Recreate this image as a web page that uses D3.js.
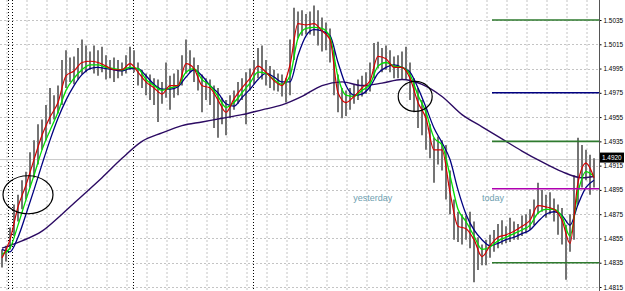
<!DOCTYPE html>
<html>
<head>
<meta charset="utf-8">
<script src="https://d3js.org/d3.v7.min.js"></script>
<style>
  body { margin: 0; background: #fff; }
  svg { display: block; font-family: "Liberation Sans", Arial, sans-serif; }
</style>
</head>
<body>
<svg id="chart" width="625" height="291"></svg>
<script>
// price bars (high / low), one bar every 4px
const barHigh = [1.4846,1.4849,1.4864,1.4883,1.4891,1.4903,1.4910,1.4926,1.4936,1.4949,
  1.4953,1.4965,1.4979,1.4973,1.4981,1.5002,1.5010,1.5004,1.5005,1.5012,
  1.5019,1.5014,1.5009,1.5014,1.5010,1.5013,1.5006,1.5002,1.5004,1.5002,
  1.5000,1.5006,1.5013,1.5010,1.5000,1.4994,1.4991,1.4990,1.4987,1.4986,
  1.4984,1.5000,1.4989,1.4991,1.4994,1.5006,1.5019,1.5010,1.5004,1.4998,
  1.4990,1.4987,1.4986,1.4981,1.4979,1.4971,1.4969,1.4973,1.4977,1.4984,
  1.4987,1.4992,1.4995,1.5002,1.5012,1.5014,1.5002,1.4997,1.4994,1.4991,
  1.4990,1.4987,1.5019,1.5045,1.5042,1.5043,1.5040,1.5042,1.5047,1.5043,
  1.5037,1.5033,1.5028,1.5010,1.4990,1.4979,1.4977,1.4979,1.4982,1.4986,
  1.4989,1.4992,1.5000,1.5016,1.5017,1.5012,1.5014,1.5010,1.5005,1.5006,
  1.5009,1.5013,1.5000,1.4987,1.4979,1.4969,1.4963,1.4949,1.4938,1.4939,
  1.4936,1.4932,1.4911,1.4887,1.4877,1.4875,1.4874,1.4877,1.4869,1.4856,
  1.4850,1.4854,1.4858,1.4862,1.4867,1.4870,1.4865,1.4872,1.4869,1.4867,
  1.4874,1.4875,1.4879,1.4887,1.4901,1.4895,1.4891,1.4893,1.4888,1.4883,
  1.4880,1.4866,1.4875,1.4907,1.4938,1.4932,1.4928,1.4924,1.4921];
const barLow = [1.4831,1.4836,1.4846,1.4857,1.4869,1.4879,1.4887,1.4897,1.4905,1.4916,
  1.4928,1.4936,1.4949,1.4953,1.4958,1.4965,1.4979,1.4984,1.4982,1.4986,
  1.4990,1.4992,1.4994,1.4991,1.4989,1.4992,1.4986,1.4987,1.4984,1.4987,
  1.4989,1.4991,1.4994,1.4992,1.4981,1.4979,1.4973,1.4969,1.4965,1.4951,
  1.4966,1.4971,1.4961,1.4971,1.4973,1.4981,1.4991,1.4992,1.4984,1.4977,
  1.4959,1.4969,1.4965,1.4946,1.4938,1.4949,1.4940,1.4954,1.4961,1.4966,
  1.4969,1.4949,1.4977,1.4982,1.4987,1.4986,1.4981,1.4979,1.4977,1.4976,
  1.4972,1.4967,1.4973,1.5002,1.5020,1.5022,1.5023,1.5023,1.5022,1.5014,
  1.5009,1.5010,1.5000,1.4973,1.4959,1.4954,1.4956,1.4961,1.4966,1.4969,
  1.4972,1.4974,1.4976,1.4987,1.4995,1.4992,1.4994,1.4992,1.4987,1.4987,
  1.4986,1.4986,1.4969,1.4959,1.4946,1.4940,1.4928,1.4921,1.4901,1.4916,
  1.4911,1.4887,1.4875,1.4854,1.4852,1.4850,1.4854,1.4847,1.4819,1.4829,
  1.4833,1.4833,1.4839,1.4844,1.4847,1.4850,1.4851,1.4852,1.4854,1.4854,
  1.4857,1.4859,1.4862,1.4866,1.4875,1.4877,1.4872,1.4875,1.4869,1.4858,
  1.4850,1.4821,1.4844,1.4854,1.4883,1.4897,1.4903,1.4891,1.4897];

// fast moving averages, read every 2nd bar
const maRed = [1.4839,1.4854,1.4881,1.4899,1.4920,1.4940,1.4955,1.4967,1.4989,1.4993,
  1.5000,1.5001,1.5000,1.4997,1.4994,1.4994,1.4999,1.4992,1.4984,1.4979,
  1.4974,1.4981,1.4981,1.4999,1.4995,1.4981,1.4979,1.4969,1.4959,1.4970,
  1.4979,1.4987,1.4997,1.4992,1.4985,1.4981,1.4998,1.5032,1.5031,1.5032,
  1.5026,1.5019,1.4975,1.4967,1.4972,1.4979,1.4985,1.5005,1.5003,1.4996,
  1.4996,1.4987,1.4967,1.4954,1.4928,1.4928,1.4893,1.4865,1.4863,1.4854,
  1.4840,1.4849,1.4856,1.4858,1.4861,1.4865,1.4870,1.4882,1.4881,1.4879,
  1.4870,1.4851,1.4901,1.4917,1.4905];
const maGreen = [1.4842,1.4847,1.4866,1.4887,1.4907,1.4928,1.4944,1.4959,1.4977,1.4987,
  1.4994,1.4998,1.4998,1.4996,1.4995,1.4994,1.4996,1.4995,1.4986,1.4981,
  1.4977,1.4979,1.4981,1.4992,1.4995,1.4986,1.4981,1.4972,1.4963,1.4967,
  1.4975,1.4983,1.4992,1.4991,1.4986,1.4982,1.4989,1.5020,1.5028,1.5029,
  1.5028,1.5021,1.4988,1.4973,1.4972,1.4977,1.4982,1.4997,1.5000,1.4997,
  1.4996,1.4990,1.4973,1.4959,1.4938,1.4932,1.4907,1.4879,1.4869,1.4857,
  1.4846,1.4848,1.4853,1.4856,1.4859,1.4862,1.4866,1.4876,1.4879,1.4879,
  1.4873,1.4857,1.4893,1.4910,1.4906];
const maNavy = [1.4846,1.4844,1.4856,1.4875,1.4895,1.4916,1.4936,1.4954,1.4969,1.4981,
  1.4990,1.4995,1.4996,1.4995,1.4994,1.4993,1.4995,1.4995,1.4989,1.4982,
  1.4978,1.4978,1.4980,1.4988,1.4994,1.4989,1.4981,1.4975,1.4966,1.4964,
  1.4971,1.4978,1.4986,1.4991,1.4988,1.4984,1.4984,1.5006,1.5022,1.5027,
  1.5026,1.5022,1.5000,1.4981,1.4973,1.4974,1.4980,1.4991,1.4996,1.4998,
  1.4996,1.4992,1.4979,1.4963,1.4946,1.4934,1.4920,1.4895,1.4875,1.4862,
  1.4854,1.4849,1.4851,1.4854,1.4856,1.4859,1.4862,1.4869,1.4875,1.4877,
  1.4874,1.4866,1.4883,1.4897,1.4903];

// slow moving average
const maSlowBars = [0,5,10,15,20,25,30,35,40,45,50,55,60,65,70,75,80,85,90,95,
  100,105,110,115,120,125,130,135,140,145,148];
const maSlow = [1.4847,1.4853,1.4861,1.4875,1.4890,1.4905,1.4921,1.4935,1.4942,1.4948,
  1.4951,1.4954,1.4957,1.4961,1.4965,1.4972,1.4981,1.4984,1.4981,1.4983,
  1.4986,1.4982,1.4972,1.4957,1.4947,1.4937,1.4927,1.4918,1.4910,1.4905,
  1.4906];

const priceTicks = [1.5035,1.5015,1.4995,1.4975,1.4955,1.4935,1.4915,1.4895,1.4875,1.4855,1.4835,1.4815];
const bidPrice = 1.4920;

// horizontal levels drawn on the right
const levelPrices = [1.5035, 1.4975, 1.4935, 1.4896, 1.4835];
const levelColours = ['#2e7a2e', '#000080', '#2e7a2e', '#b000b0', '#2e7a2e'];
const levelStartBar = 122.5;

// day separators (bar positions)
const separatorBars = [1.6, 2.6, 32.8, 62.8];

const labelTexts = ['yesterday', 'today'];
const labelBars = [87.8, 120];
const labelPrice = 1.4886;

// circled areas
const circleBars = [6.5, 103.3];
const circlePrices = [1.4891, 1.4972];
const circleRx = [25, 17];
const circleRy = [19, 15];

const W = 625, H = 291, axisX = 599;
const svg = d3.select('#chart');

const x = d3.scaleLinear().domain([0, 148]).range([2, 594]);
const y = d3.scaleLinear().domain([1.4815, 1.5035]).range([287, 20]);

svg.append('rect').attr('width', W).attr('height', H).attr('fill', '#fff');

svg.append('clipPath').attr('id', 'plot')
  .append('rect').attr('x', 0).attr('y', 0).attr('width', axisX).attr('height', H);

const g = svg.append('g').attr('clip-path', 'url(#plot)');

// grid
g.selectAll('.vgrid')
  .data(d3.range(1.25, 148, 5))
  .join('line')
  .attr('x1', d => x(d)).attr('x2', d => x(d))
  .attr('y1', 0).attr('y2', H)
  .attr('stroke', '#c4c4c4').attr('stroke-dasharray', '2,2');

g.selectAll('.hgrid')
  .data(priceTicks)
  .join('line')
  .attr('x1', 0).attr('x2', axisX)
  .attr('y1', d => Math.round(y(d)) + 0.5).attr('y2', d => Math.round(y(d)) + 0.5)
  .attr('stroke', '#c4c4c4').attr('stroke-dasharray', '2,2');

// separators
g.selectAll('.sep')
  .data(separatorBars)
  .join('line')
  .attr('x1', d => Math.round(x(d)) + 0.5).attr('x2', d => Math.round(x(d)) + 0.5)
  .attr('y1', 0).attr('y2', H)
  .attr('stroke', '#000').attr('stroke-dasharray', '1,2');

// bid line
g.append('line')
  .attr('x1', 0).attr('x2', axisX)
  .attr('y1', y(bidPrice)).attr('y2', y(bidPrice))
  .attr('stroke', '#c8c8c8');

// price bars
g.selectAll('.bar')
  .data(barHigh)
  .join('line')
  .attr('x1', (d, i) => x(i)).attr('x2', (d, i) => x(i))
  .attr('y1', d => y(d))
  .attr('y2', (d, i) => y(barLow[i]))
  .attr('stroke', '#747474').attr('stroke-width', 2);

const ma = (vals, bars) => d3.line()
  .x((d, i) => x(bars ? bars[i] : i * 2))
  .y(d => y(d))
  .curve(d3.curveMonotoneX)(vals);

g.append('path').attr('d', ma(maSlow, maSlowBars))
  .attr('fill', 'none').attr('stroke', '#2c0b63').attr('stroke-width', 1.4);
g.append('path').attr('d', ma(maNavy))
  .attr('fill', 'none').attr('stroke', '#000080').attr('stroke-width', 1.3);
g.append('path').attr('d', ma(maGreen))
  .attr('fill', 'none').attr('stroke', '#00dd00').attr('stroke-width', 1.3);
g.append('path').attr('d', ma(maRed))
  .attr('fill', 'none').attr('stroke', '#d40000').attr('stroke-width', 1.2);

// levels
g.selectAll('.level')
  .data(levelPrices)
  .join('line')
  .attr('x1', x(levelStartBar)).attr('x2', axisX)
  .attr('y1', d => y(d)).attr('y2', d => y(d))
  .attr('stroke', (d, i) => levelColours[i]).attr('stroke-width', 1.6);

// ellipses
g.selectAll('.circ')
  .data(circleBars)
  .join('ellipse')
  .attr('cx', d => x(d))
  .attr('cy', (d, i) => y(circlePrices[i]))
  .attr('rx', (d, i) => circleRx[i])
  .attr('ry', (d, i) => circleRy[i])
  .attr('fill', 'none').attr('stroke', '#000').attr('stroke-width', 1.2);

// text labels
g.selectAll('.lbl')
  .data(labelTexts)
  .join('text')
  .attr('x', (d, i) => x(labelBars[i]))
  .attr('y', y(labelPrice))
  .attr('font-size', 9)
  .attr('fill', '#6fa0b0')
  .text(d => d);

// price axis
const axis = svg.append('g')
  .attr('transform', `translate(${axisX + 0.5},0)`)
  .call(d3.axisRight(y).tickValues(priceTicks).tickFormat(d3.format('.4f')).tickSize(2).tickPadding(2));
axis.select('.domain').remove();
axis.selectAll('.tick line').attr('stroke', '#000');
axis.selectAll('.tick text').attr('font-size', 6.4).attr('fill', '#000')
  .attr('font-family', '"Liberation Sans", Arial, sans-serif');

svg.append('line')
  .attr('x1', axisX + 0.5).attr('x2', axisX + 0.5)
  .attr('y1', 0).attr('y2', H)
  .attr('stroke', '#555');

// bid price tag
svg.append('rect')
  .attr('x', axisX + 1).attr('y', y(bidPrice) - 7)
  .attr('width', W - axisX - 2).attr('height', 10)
  .attr('fill', '#000');
svg.append('text')
  .attr('x', axisX + 3).attr('y', y(bidPrice) + 0.5)
  .attr('font-size', 6.4).attr('fill', '#fff')
  .text(bidPrice.toFixed(4));
</script>
</body>
</html>
